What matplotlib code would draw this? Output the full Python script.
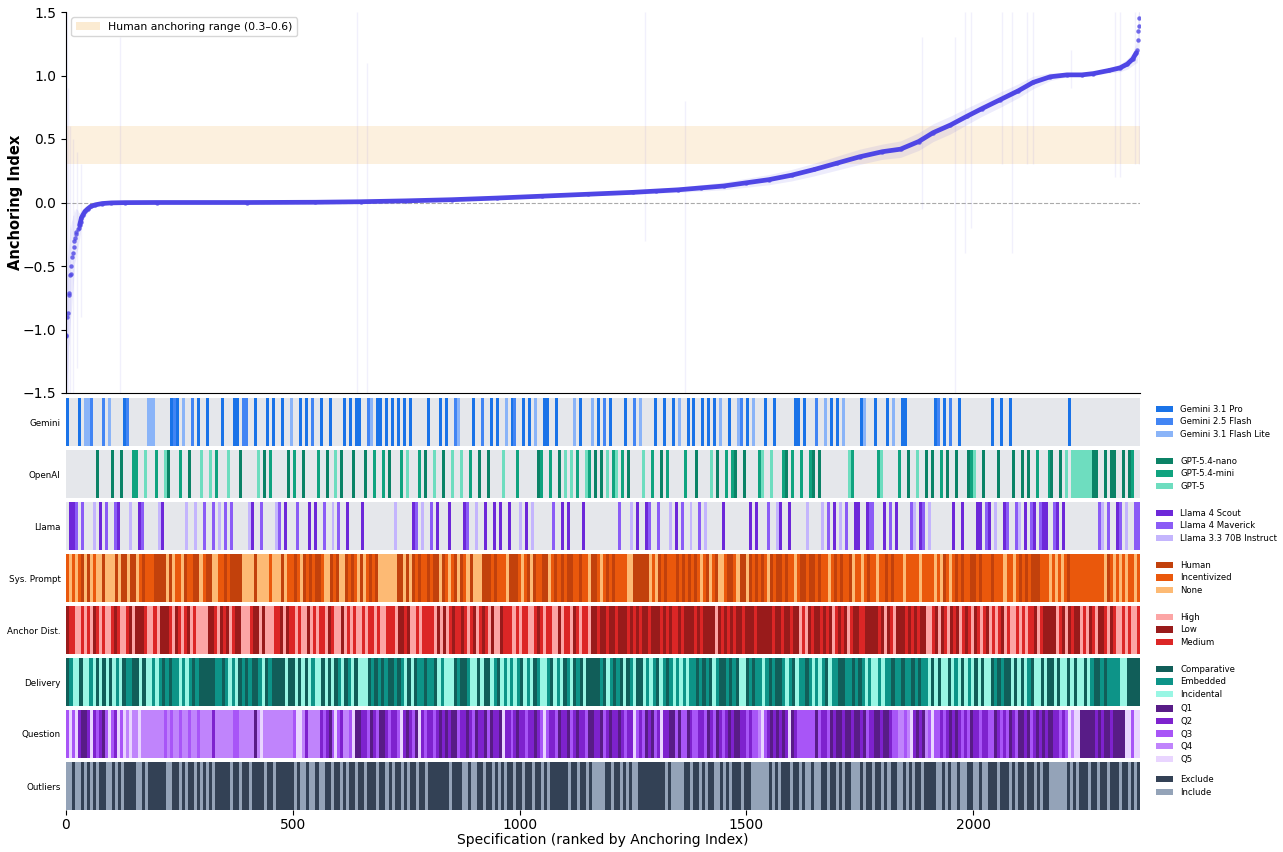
import numpy as np
import matplotlib
matplotlib.use("Agg")
import matplotlib.pyplot as plt
from matplotlib.colors import to_rgb
from matplotlib.patches import Patch

# number of specifications on the x axis
N_SPEC = 2368

# curve (rank, anchoring index, half width of CI)
spec_rank = [0, 1, 3, 4, 6, 7, 9, 10, 12, 14, 15, 17, 18, 19, 21, 23, 26, 28, 30, 32,
             34, 37, 42, 48, 55, 65, 80, 100, 130, 200, 400, 550, 650, 750, 850, 950, 1050, 1150, 1250, 1300,
             1350, 1400, 1450, 1500, 1550, 1600, 1650, 1700, 1750, 1800, 1840, 1880, 1912, 1950, 1987, 2020, 2060, 2100, 2132, 2170,
             2207, 2240, 2265, 2300, 2324, 2340, 2352, 2360, 2362, 2363, 2364, 2365, 2366]
anch_idx = [-1.05, -1.04, -0.90, -0.87, -0.73, -0.71, -0.57, -0.56, -0.50, -0.43, -0.40, -0.35, -0.30, -0.28, -0.25, -0.23, -0.21, -0.20, -0.18, -0.15,
            -0.12, -0.10, -0.07, -0.05, -0.03, -0.018, -0.008, -0.003, -0.001, 0.0, 0.0, 0.002, 0.006, 0.013, 0.022, 0.035, 0.05, 0.065, 0.08, 0.09,
            0.10, 0.115, 0.13, 0.155, 0.18, 0.215, 0.26, 0.31, 0.36, 0.40, 0.42, 0.48, 0.55, 0.61, 0.68, 0.74, 0.81, 0.88, 0.945, 0.99,
            1.005, 1.005, 1.015, 1.04, 1.06, 1.09, 1.13, 1.18, 1.20, 1.28, 1.35, 1.39, 1.45]
ci_half = [0.45, 0.45, 0.45, 0.45, 0.4, 0.4, 0.4, 0.35, 0.35, 0.3, 0.3, 0.25, 0.25, 0.2, 0.2, 0.18, 0.15, 0.12, 0.1, 0.08,
           0.06, 0.05, 0.04, 0.03, 0.02, 0.015, 0.01, 0.008, 0.006, 0.004, 0.004, 0.005, 0.006, 0.008, 0.01, 0.01, 0.012, 0.012, 0.015, 0.018,
           0.02, 0.025, 0.03, 0.035, 0.04, 0.045, 0.05, 0.055, 0.06, 0.06, 0.065, 0.07, 0.07, 0.07, 0.065, 0.06, 0.06, 0.055, 0.05, 0.03,
           0.015, 0.01, 0.012, 0.02, 0.03, 0.04, 0.05, 0.08, 0.1, 0.12, 0.12, 0.12, 0.12]

# the few very wide intervals that show as faint full lines
wide_rank = [2, 5, 9, 16, 24, 33, 119, 642, 663, 1277, 1365, 1887, 1960, 1982, 1996, 2064, 2086, 2118, 2132, 2216, 2313, 2324, 2358, 2366]
wide_lo = [-1.5, -1.5, -1.5, -1.5, -1.3, -0.9, -1.5, -1.5, -1.5, -0.3, -1.5, -0.05, -1.5, -0.4, -0.2, 0.3, -0.4, 0.3, 0.3, 0.9, 0.2, 0.2, 0.3, 0.3]
wide_hi = [1.5, 0.9, 0.6, 0.5, 0.4, 0.3, 1.3, 1.5, 1.1, 1.5, 0.8, 1.3, 1.3, 1.5, 1.5, 1.5, 1.5, 1.5, 1.5, 1.2, 1.5, 1.5, 1.5, 1.5]

# model per block of specs (a-c Gemini, d-f OpenAI, g-i Llama)
model_seq = (
    "agghahccbi dgbhcdhgda bieeghfccc eigfdabaec idbiafhafh eiahfhaadb bigafhdaea ih"
    "agdcehadag bgeahdaifh dagadaagdb ceaaeadaia eafagheida hfgadagfbc fgheaidbgd ag"
    "agfcgabeia gaicdeaaeh adgfgfceag fecdadbfae fheadibgcf gheahdaeia gcheaiadha ia"
    "fadcgeaedc bdagcgefah faigedgeaa eaiedbdich agaichfegg acghhaefga hcgeaadhif gh"
    "didabeadbg dagmdefggd hgaidaghad hidgdhgehg gedhgdgfaf ffffffddhi dhddghdide hh"
)
sys_seq = (
    "ININIHNHNINNHNNNHNHHNHHNIHIIIHHHHNHNIINHIIHHNIHHNNIIHIHHHHNNNNHNNNNINNN"
    "HNIIHINHIHIHHINNHIHNNHIHINHNIHIHNNNNNNHHNHNHIHIIHIHHNHINIHNHINHNNNHHHIHI"
    "IINHHHINIHNHIIHHNIHIHIHHIIHIINHHINIHIHIIIINNHHHHHNINHIHIIIHIHIHIHINIHNIH"
    "NNIHHINHHNHIHIHINHIHHIHIINIHHIHHIHIINIHIHIIHNIINIHIINIIHIHIIINIIIINIII"
    "ININHINIHIHIIHHIHIIIHIIINIINIHIHIHHHIIINININIHIIIIIIIIIIINHINININIINI"
)
anchor_seq = (
    "LMMPPMPMPLMPMPPMLMPPMLPLLLMPPMPLLLMPLMPMLPMPPPPLLMPLMLPMLLPPPMLLPLPPPMML"
    "PLMMPMPPLPMPMMPLMPPLPMPMPPMPMMPMPPMMMPLLMLPPMPMMMMPLPLPMLMMLMPMLPMLMPL"
    "PPLMMMPMPMMPPMLMPMMPPLPMMPLMPMMPLLMLLMLLMLLLMLMLMLLMLLLMLMLMMLMLLLMLML"
    "LLLPLMLMLMLLMLLLMLLLLLMLLMLLMLLPMPLMLLMLMLPMLMLPMLLMMLLLLMLPLMPLLLMLMLML"
    "LPPMLPLMPLMLPMLMPLMPMLPMPMLPMPPMPMPMMLPMLLLLPMLPLMLLPMPLMPLLMPLMPPMPMPPM"
)
delivery_seq = (
    "CEXXCXXEXCXCXCXEXCEECCXCXXEXECECEEXEXECECCCCCEECEXEXCECECCEXCECC"
    "CCXCCXCXCXEXXCXCXCEXCEXCXXXCECECECCECEXCXCEECEECXEXXXCECCEXXCXCC"
    "XECXEXEXECXEXCEXXECXEXCEXCECXCCCCECXECECXCEXCCXEXECXECEXEXEXEECECE"
    "CXECCECECXXCECEEXECECCEXECXEECEXEXECXEECCEECECEXEXXEXEECEECEECECEE"
    "XCXCXXCXEXCXEXCXCXXCECECCXCXCXECXXCXCCXCXXCXCXXCXECCECEEEEXXCCCC"
)
question_seq = (
    "353521125232135325354544544444444343443443443444424444443344444145444444"
    "444435542444423213532443511223123112322352123152322321212113221231221312"
    "215223212232212353223122132122311221321221232253231213252211313312332231"
    "231232121122323345321212125123333331322312112112112132211211233443452121"
    "435332321212323122322331232312311213212121122323545511111212112111155355"
)
outlier_seq = (
    "ooxooxoxoxoxxooxoxoxxxxooxoxxxxxxooxxoxoxxoxoxoxoxxxxxoxxoxxoxxxxoxxoxx"
    "xxxxoxooxooxooxxoxxoxoxxoxxoxxxoxxoxoxxoxoxxoxxoxxxxxxxoxxxooxooxxoxxox"
    "oxoxxoxxoxxoxxoxoxxxxxxoxxoxxoxooooxxoxxoxoxooxxxxxxxxxoxooooxxoxxoxoxx"
    "ooxoxoxxxoxxooooooxoxoxxxoxxoxooxooxxoxxoxoxxoooxoxxoxxoxoxxooxoxoxxoxx"
    "xxooxoxooxooxxooxooxxxoxxxoxoxxoxxoxoxxooooooxoxoxxxoxxoxxoxxxoxxoxox"
)

GRAY = "#E5E7EB"
providers = [
    ("Gemini", ["a", "b", "c"], ["Gemini 3.1 Pro", "Gemini 2.5 Flash", "Gemini 3.1 Flash Lite"],
     ["#1A73E8", "#4285F4", "#8AB4F8"]),
    ("OpenAI", ["d", "e", "f"], ["GPT-5.4-nano", "GPT-5.4-mini", "GPT-5"],
     ["#0B8266", "#10A37F", "#6EDDBF"]),
    ("Llama", ["g", "h", "i"], ["Llama 4 Scout", "Llama 4 Maverick", "Llama 3.3 70B Instruct"],
     ["#6D28D9", "#8B5CF6", "#C4B5FD"]),
]
factors = [
    ("Sys. Prompt", sys_seq, ["H", "I", "N"], ["Human", "Incentivized", "None"],
     ["#C2410C", "#EA580C", "#FDBA74"]),
    ("Anchor Dist.", anchor_seq, ["P", "L", "M"], ["High", "Low", "Medium"],
     ["#FCA5A5", "#991B1B", "#DC2626"]),
    ("Delivery", delivery_seq, ["C", "E", "X"], ["Comparative", "Embedded", "Incidental"],
     ["#115E59", "#0D9488", "#99F6E4"]),
    ("Question", question_seq, ["1", "2", "3", "4", "5"], ["Q1", "Q2", "Q3", "Q4", "Q5"],
     ["#581C87", "#7E22CE", "#A855F7", "#C084FC", "#E9D5FF"]),
    ("Outliers", outlier_seq, ["x", "o"], ["Exclude", "Include"],
     ["#334155", "#94A3B8"]),
]

W, H = 1283, 852
fig = plt.figure(figsize=(W / 100, H / 100), dpi=100)


def px_axes(left, top, right, bottom):
    return fig.add_axes([left / W, 1 - bottom / H, (right - left) / W, (bottom - top) / H])


# ---- main curve
ax = px_axes(66, 12, 1140, 393)
ax.axhspan(0.3, 0.6, color="#F5C77E", alpha=0.25, lw=0)
ax.axhline(0, color="#AAAAAA", ls="--", lw=0.8)
ax.vlines(wide_rank, wide_lo, wide_hi, color="#4F46E5", alpha=0.08, lw=1)
r = np.array(spec_rank)
v = np.array(anch_idx)
c = np.array(ci_half)
ax.fill_between(r, v - c, v + c, color="#4F46E5", alpha=0.1, lw=0)
body = (r >= 30) & (r <= 2360)
ax.plot(r[body], v[body], color="#4F46E5", lw=3.4, solid_capstyle="round")
ax.plot(r, v, "o", color="#4F46E5", ms=3.2, alpha=0.8, mec="none")
ax.set_xlim(0, N_SPEC)
ax.set_ylim(-1.5, 1.5)
ax.set_xticks([])
ax.set_yticks([-1.5, -1.0, -0.5, 0.0, 0.5, 1.0, 1.5])
ax.tick_params(axis="y", labelsize=10)
ax.set_ylabel("Anchoring Index", fontsize=10.5, fontweight="bold")
ax.yaxis.set_label_coords(-0.040, 0.5)
ax.spines["top"].set_visible(False)
ax.spines["right"].set_visible(False)
ax.legend(handles=[Patch(facecolor="#F5C77E", alpha=0.35, label="Human anchoring range (0.3\u20130.6)")],
          loc="upper left", fontsize=7.8, handlelength=2.2)


def draw_band(i, name, colors, labels, legend_colors):
    top = 398 + 52 * i
    bax = px_axes(66, top, 1140, top + 48)
    rgb = np.array([[to_rgb(col) for col in colors]])
    bax.imshow(rgb, aspect="auto", extent=(0, N_SPEC, 0, 1), interpolation="nearest")
    bax.set_xlim(0, N_SPEC)
    bax.set_ylim(0, 1)
    for s in bax.spines.values():
        s.set_visible(False)
    bax.set_yticks([0.5])
    bax.set_yticklabels([name], fontsize=6.3)
    bax.tick_params(axis="y", length=0, pad=4)
    bax.set_xticks([])
    handles = [Patch(facecolor=lc, edgecolor="none", label=lb) for lc, lb in zip(legend_colors, labels)]
    bax.legend(handles=handles, loc="center left", bbox_to_anchor=(1.012, 0.5), frameon=False,
               fontsize=6.1, handlelength=2.0, handleheight=0.75, handletextpad=0.85,
               labelspacing=0.42, borderaxespad=0)
    return bax


models = model_seq.replace(" ", "")
i = 0
for name, codes, labels, cols in providers:
    cmap = dict(zip(codes, cols))
    draw_band(i, name, [cmap.get(m, GRAY) for m in models], labels, cols)
    i += 1

for name, seq, codes, labels, cols in factors:
    cmap = dict(zip(codes, cols))
    bax = draw_band(i, name, [cmap[s] for s in seq], labels, cols)
    i += 1

# last band carries the x axis
bax.set_xticks([0, 500, 1000, 1500, 2000])
bax.tick_params(axis="x", labelsize=10, pad=2)
bax.set_xlabel("Specification (ranked by Anchoring Index)", fontsize=10, labelpad=1)

fig.savefig("out.png", dpi=100)
